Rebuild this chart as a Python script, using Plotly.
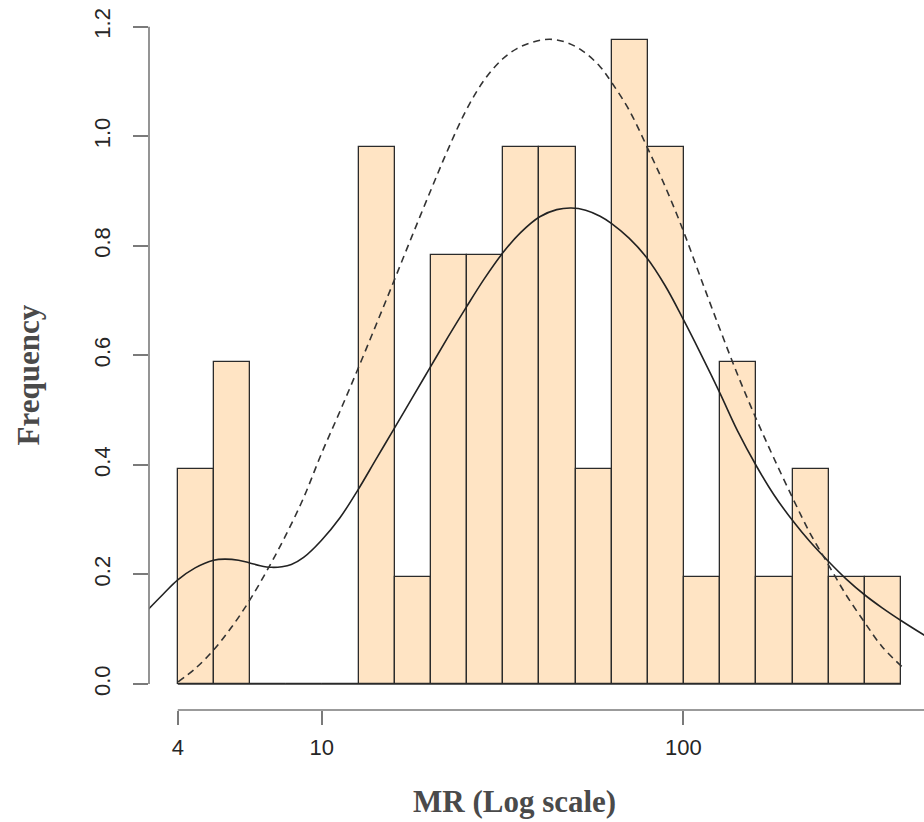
import numpy as np
import plotly.graph_objects as go

# Histogram of MR on a log10 scale: bin breaks (MR units) and densities
mr_breaks = [4.00, 5.04, 6.34, 7.98, 10.05, 12.65, 15.92, 20.05, 25.24, 31.77,
             40.00, 50.36, 63.40, 79.81, 100.48, 126.49, 159.24, 200.48, 252.38,
             317.73, 400.00]
density = [0.392, 0.588, 0.0, 0.0, 0.0, 0.980, 0.196, 0.784, 0.784, 0.980,
           0.980, 0.392, 1.176, 0.980, 0.196, 0.588, 0.196, 0.392, 0.196, 0.196]

# Kernel density estimate (solid line), x in log10(MR)
kde_log_mr = [0.520, 0.560, 0.602, 0.650, 0.701, 0.732, 0.770, 0.801, 0.830,
              0.861, 0.890, 0.916, 0.950, 0.999, 1.050, 1.100, 1.150, 1.202,
              1.250, 1.300, 1.350, 1.400, 1.450, 1.502, 1.550, 1.603, 1.650,
              1.690, 1.730, 1.770, 1.801, 1.850, 1.898, 1.950, 1.999, 2.046,
              2.102, 2.150, 2.203, 2.250, 2.305, 2.350, 2.401, 2.450, 2.503,
              2.550, 2.604, 2.669]
kde_y = [0.136, 0.163, 0.190, 0.212, 0.226, 0.228, 0.226, 0.221, 0.216,
         0.213, 0.214, 0.218, 0.231, 0.262, 0.303, 0.354, 0.410, 0.468,
         0.522, 0.578, 0.634, 0.688, 0.740, 0.788, 0.824, 0.853, 0.866,
         0.869, 0.865, 0.854, 0.841, 0.814, 0.779, 0.727, 0.667, 0.606,
         0.530, 0.462, 0.397, 0.346, 0.296, 0.260, 0.224, 0.192, 0.162,
         0.139, 0.115, 0.088]

# Fitted normal curve (dashed line), x in log10(MR)
norm_log_mr = [0.603, 0.650, 0.701, 0.750, 0.801, 0.852, 0.898, 0.950, 0.999,
               1.050, 1.100, 1.150, 1.200, 1.250, 1.304, 1.350, 1.400, 1.450,
               1.500, 1.540, 1.585, 1.631, 1.678, 1.723, 1.770, 1.802, 1.850,
               1.898, 1.950, 1.999, 2.046, 2.100, 2.150, 2.203, 2.250, 2.305,
               2.350, 2.401, 2.450, 2.503, 2.550, 2.604]
norm_y = [0.004, 0.028, 0.062, 0.103, 0.153, 0.211, 0.268, 0.340, 0.420,
          0.497, 0.575, 0.655, 0.736, 0.818, 0.905, 0.977, 1.048, 1.103,
          1.141, 1.160, 1.172, 1.177, 1.171, 1.155, 1.127, 1.098, 1.048,
          0.983, 0.908, 0.829, 0.745, 0.650, 0.565, 0.482, 0.413, 0.336,
          0.276, 0.218, 0.163, 0.111, 0.068, 0.032]

x_tick_values = [4, 10, 100]
x_tick_labels = ["4", "10", "100"]
y_tick_values = [0.0, 0.2, 0.4, 0.6, 0.8, 1.0, 1.2]
y_tick_labels = ["0.0", "0.2", "0.4", "0.6", "0.8", "1.0", "1.2"]

log_breaks = np.log10(mr_breaks)
centers = (log_breaks[:-1] + log_breaks[1:]) / 2
widths = np.diff(log_breaks)

W, H = 924, 822
ML, MR_, MT, MB = 149, 0, 0, 112
X_RANGE = [0.5224, 2.6657]
Y_RANGE = [-0.0475, 1.2487]

edge = "#2b2b2b"
axis_col = "#7a7a7a"
tick_font = dict(family="Liberation Sans, Arial, sans-serif", size=22, color="#262626")
title_font = dict(family="Liberation Serif, Times New Roman, serif", size=31, color="#4a4a4a")

fig = go.Figure()

# bottoms of all histogram cells (visible where bins are empty)
fig.add_trace(go.Scatter(
    x=[log_breaks[0], log_breaks[-1]], y=[0, 0], mode="lines",
    line=dict(color=edge, width=1.3), hoverinfo="skip", showlegend=False))

fig.add_trace(go.Bar(
    x=centers, y=density, width=widths,
    marker=dict(color="#FFE4C4", line=dict(color=edge, width=1.3)),
    showlegend=False))

fig.add_trace(go.Scatter(
    x=kde_log_mr, y=kde_y, mode="lines",
    line=dict(color="#222222", width=1.6, shape="spline", smoothing=1.0),
    showlegend=False))

fig.add_trace(go.Scatter(
    x=norm_log_mr, y=norm_y, mode="lines",
    line=dict(color="#333333", width=1.6, dash="7px,5px", shape="spline", smoothing=1.0),
    showlegend=False))

shapes = [
    # x axis line from the first tick to the right edge
    dict(type="line", xref="x", yref="paper", x0=np.log10(x_tick_values[0]), x1=X_RANGE[1],
         y0=0, y1=0, line=dict(color=axis_col, width=1.6)),
    # y axis line spanning the tick range
    dict(type="line", xref="paper", yref="y", x0=0, x1=0,
         y0=y_tick_values[0], y1=y_tick_values[-1], line=dict(color=axis_col, width=1.6)),
]

plot_w = W - ML - MR_
plot_h = H - MT - MB

annotations = [
    dict(text="<b>MR (Log scale)</b>", xref="paper", yref="paper",
         x=(514.5 - ML) / plot_w, y=(MT + plot_h - 801) / plot_h,
         xanchor="center", yanchor="middle", showarrow=False, font=title_font),
    dict(text="<b>Frequency</b>", xref="paper", yref="paper",
         x=(27.5 - ML) / plot_w, y=(MT + plot_h - 375) / plot_h,
         xanchor="center", yanchor="middle", textangle=-90, showarrow=False, font=title_font),
]

fig.update_layout(
    width=W, height=H,
    margin=dict(l=ML, r=MR_, t=MT, b=MB, pad=0),
    paper_bgcolor="white", plot_bgcolor="white",
    bargap=0, barmode="overlay",
    shapes=shapes, annotations=annotations,
    xaxis=dict(range=X_RANGE, tickvals=list(np.log10(x_tick_values)), ticktext=x_tick_labels,
               ticks="outside", ticklen=14, tickwidth=1.6, tickcolor=axis_col,
               showgrid=False, zeroline=False, showline=False,
               tickfont=tick_font, ticklabelstandoff=4),
    yaxis=dict(range=Y_RANGE, tickvals=y_tick_values, ticktext=y_tick_labels,
               ticks="outside", ticklen=15, tickwidth=1.6, tickcolor=axis_col,
               tickangle=-90, showgrid=False, zeroline=False, showline=False,
               tickfont=tick_font, ticklabelstandoff=14),
)

fig.write_html("out.html")
